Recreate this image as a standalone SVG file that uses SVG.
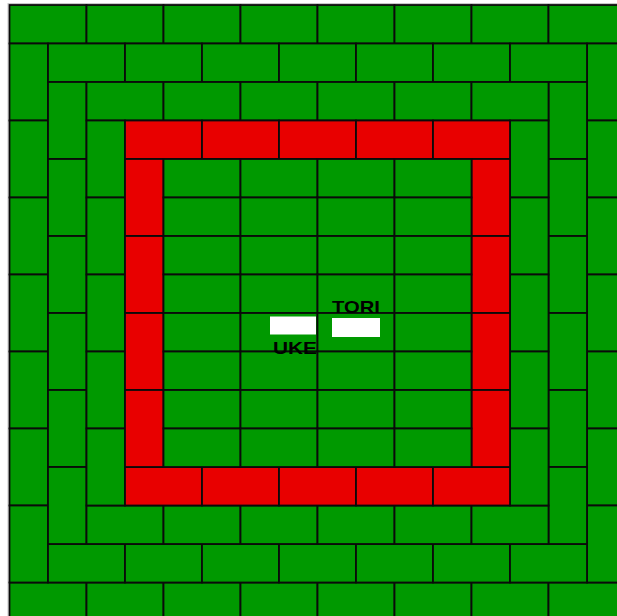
<svg xmlns="http://www.w3.org/2000/svg" xmlns:xlink="http://www.w3.org/1999/xlink" width="617" height="616" viewBox="0 0 617 616">
<style>
.g{fill:#009900;stroke:#0a0a0a;stroke-width:1.8}
.r{fill:#e80000;stroke:#0a0a0a;stroke-width:1.8}
.lbl{font-family:"Liberation Sans",Arial,sans-serif;font-weight:bold;font-size:17px;fill:#000}
</style>
<defs>
<rect id="h" width="77" height="38.5"/>
<rect id="v" width="38.5" height="77"/>
</defs>
<rect x="0" y="0" width="617" height="616" fill="#fff"/>
<rect x="8" y="3.5" width="620" height="620" fill="none" stroke="#c8c8c8" stroke-width="1"/>
<g id="outer-ring">
<use xlink:href="#h" class="g" x="9.5" y="5"/><use xlink:href="#h" class="g" x="86.5" y="5"/><use xlink:href="#h" class="g" x="163.5" y="5"/><use xlink:href="#h" class="g" x="240.5" y="5"/><use xlink:href="#h" class="g" x="317.5" y="5"/><use xlink:href="#h" class="g" x="394.5" y="5"/><use xlink:href="#h" class="g" x="471.5" y="5"/><use xlink:href="#h" class="g" x="548.5" y="5"/>
<use xlink:href="#h" class="g" x="9.5" y="582.5"/><use xlink:href="#h" class="g" x="86.5" y="582.5"/><use xlink:href="#h" class="g" x="163.5" y="582.5"/><use xlink:href="#h" class="g" x="240.5" y="582.5"/><use xlink:href="#h" class="g" x="317.5" y="582.5"/><use xlink:href="#h" class="g" x="394.5" y="582.5"/><use xlink:href="#h" class="g" x="471.5" y="582.5"/><use xlink:href="#h" class="g" x="548.5" y="582.5"/>
<use xlink:href="#v" class="g" x="9.5" y="43.5"/><use xlink:href="#v" class="g" x="9.5" y="120.5"/><use xlink:href="#v" class="g" x="9.5" y="197.5"/><use xlink:href="#v" class="g" x="9.5" y="274.5"/><use xlink:href="#v" class="g" x="9.5" y="351.5"/><use xlink:href="#v" class="g" x="9.5" y="428.5"/><use xlink:href="#v" class="g" x="9.5" y="505.5"/>
<use xlink:href="#v" class="g" x="587" y="43.5"/><use xlink:href="#v" class="g" x="587" y="120.5"/><use xlink:href="#v" class="g" x="587" y="197.5"/><use xlink:href="#v" class="g" x="587" y="274.5"/><use xlink:href="#v" class="g" x="587" y="351.5"/><use xlink:href="#v" class="g" x="587" y="428.5"/><use xlink:href="#v" class="g" x="587" y="505.5"/>
</g>
<g id="ring-2">
<use xlink:href="#h" class="g" x="48" y="43.5"/><use xlink:href="#h" class="g" x="125" y="43.5"/><use xlink:href="#h" class="g" x="202" y="43.5"/><use xlink:href="#h" class="g" x="279" y="43.5"/><use xlink:href="#h" class="g" x="356" y="43.5"/><use xlink:href="#h" class="g" x="433" y="43.5"/><use xlink:href="#h" class="g" x="510" y="43.5"/>
<use xlink:href="#h" class="g" x="48" y="544"/><use xlink:href="#h" class="g" x="125" y="544"/><use xlink:href="#h" class="g" x="202" y="544"/><use xlink:href="#h" class="g" x="279" y="544"/><use xlink:href="#h" class="g" x="356" y="544"/><use xlink:href="#h" class="g" x="433" y="544"/><use xlink:href="#h" class="g" x="510" y="544"/>
<use xlink:href="#v" class="g" x="48" y="82"/><use xlink:href="#v" class="g" x="48" y="159"/><use xlink:href="#v" class="g" x="48" y="236"/><use xlink:href="#v" class="g" x="48" y="313"/><use xlink:href="#v" class="g" x="48" y="390"/><use xlink:href="#v" class="g" x="48" y="467"/>
<use xlink:href="#v" class="g" x="548.5" y="82"/><use xlink:href="#v" class="g" x="548.5" y="159"/><use xlink:href="#v" class="g" x="548.5" y="236"/><use xlink:href="#v" class="g" x="548.5" y="313"/><use xlink:href="#v" class="g" x="548.5" y="390"/><use xlink:href="#v" class="g" x="548.5" y="467"/>
</g>
<g id="ring-3">
<use xlink:href="#h" class="g" x="86.5" y="82"/><use xlink:href="#h" class="g" x="163.5" y="82"/><use xlink:href="#h" class="g" x="240.5" y="82"/><use xlink:href="#h" class="g" x="317.5" y="82"/><use xlink:href="#h" class="g" x="394.5" y="82"/><use xlink:href="#h" class="g" x="471.5" y="82"/>
<use xlink:href="#h" class="g" x="86.5" y="505.5"/><use xlink:href="#h" class="g" x="163.5" y="505.5"/><use xlink:href="#h" class="g" x="240.5" y="505.5"/><use xlink:href="#h" class="g" x="317.5" y="505.5"/><use xlink:href="#h" class="g" x="394.5" y="505.5"/><use xlink:href="#h" class="g" x="471.5" y="505.5"/>
<use xlink:href="#v" class="g" x="86.5" y="120.5"/><use xlink:href="#v" class="g" x="86.5" y="197.5"/><use xlink:href="#v" class="g" x="86.5" y="274.5"/><use xlink:href="#v" class="g" x="86.5" y="351.5"/><use xlink:href="#v" class="g" x="86.5" y="428.5"/>
<use xlink:href="#v" class="g" x="510" y="120.5"/><use xlink:href="#v" class="g" x="510" y="197.5"/><use xlink:href="#v" class="g" x="510" y="274.5"/><use xlink:href="#v" class="g" x="510" y="351.5"/><use xlink:href="#v" class="g" x="510" y="428.5"/>
</g>
<g id="danger-zone">
<use xlink:href="#h" class="r" x="125" y="120.5"/><use xlink:href="#h" class="r" x="202" y="120.5"/><use xlink:href="#h" class="r" x="279" y="120.5"/><use xlink:href="#h" class="r" x="356" y="120.5"/><use xlink:href="#h" class="r" x="433" y="120.5"/>
<use xlink:href="#h" class="r" x="125" y="467"/><use xlink:href="#h" class="r" x="202" y="467"/><use xlink:href="#h" class="r" x="279" y="467"/><use xlink:href="#h" class="r" x="356" y="467"/><use xlink:href="#h" class="r" x="433" y="467"/>
<use xlink:href="#v" class="r" x="125" y="159"/><use xlink:href="#v" class="r" x="125" y="236"/><use xlink:href="#v" class="r" x="125" y="313"/><use xlink:href="#v" class="r" x="125" y="390"/>
<use xlink:href="#v" class="r" x="471.5" y="159"/><use xlink:href="#v" class="r" x="471.5" y="236"/><use xlink:href="#v" class="r" x="471.5" y="313"/><use xlink:href="#v" class="r" x="471.5" y="390"/>
</g>
<g id="contest-area">
<use xlink:href="#h" class="g" x="163.5" y="159"/><use xlink:href="#h" class="g" x="240.5" y="159"/><use xlink:href="#h" class="g" x="317.5" y="159"/><use xlink:href="#h" class="g" x="394.5" y="159"/>
<use xlink:href="#h" class="g" x="163.5" y="197.5"/><use xlink:href="#h" class="g" x="240.5" y="197.5"/><use xlink:href="#h" class="g" x="317.5" y="197.5"/><use xlink:href="#h" class="g" x="394.5" y="197.5"/>
<use xlink:href="#h" class="g" x="163.5" y="236"/><use xlink:href="#h" class="g" x="240.5" y="236"/><use xlink:href="#h" class="g" x="317.5" y="236"/><use xlink:href="#h" class="g" x="394.5" y="236"/>
<use xlink:href="#h" class="g" x="163.5" y="274.5"/><use xlink:href="#h" class="g" x="240.5" y="274.5"/><use xlink:href="#h" class="g" x="317.5" y="274.5"/><use xlink:href="#h" class="g" x="394.5" y="274.5"/>
<use xlink:href="#h" class="g" x="163.5" y="313"/><use xlink:href="#h" class="g" x="240.5" y="313"/><use xlink:href="#h" class="g" x="317.5" y="313"/><use xlink:href="#h" class="g" x="394.5" y="313"/>
<use xlink:href="#h" class="g" x="163.5" y="351.5"/><use xlink:href="#h" class="g" x="240.5" y="351.5"/><use xlink:href="#h" class="g" x="317.5" y="351.5"/><use xlink:href="#h" class="g" x="394.5" y="351.5"/>
<use xlink:href="#h" class="g" x="163.5" y="390"/><use xlink:href="#h" class="g" x="240.5" y="390"/><use xlink:href="#h" class="g" x="317.5" y="390"/><use xlink:href="#h" class="g" x="394.5" y="390"/>
<use xlink:href="#h" class="g" x="163.5" y="428.5"/><use xlink:href="#h" class="g" x="240.5" y="428.5"/><use xlink:href="#h" class="g" x="317.5" y="428.5"/><use xlink:href="#h" class="g" x="394.5" y="428.5"/>
</g>
<g id="uke">
<rect x="270" y="316.5" width="46" height="18" fill="#fff"/>
<text class="lbl" x="273" y="354" textLength="44" lengthAdjust="spacingAndGlyphs">UKE</text>
</g>
<g id="tori">
<rect x="332" y="318" width="48" height="19" fill="#fff"/>
<text class="lbl" x="332" y="313" textLength="48" lengthAdjust="spacingAndGlyphs">TORI</text>
</g>
</svg>
